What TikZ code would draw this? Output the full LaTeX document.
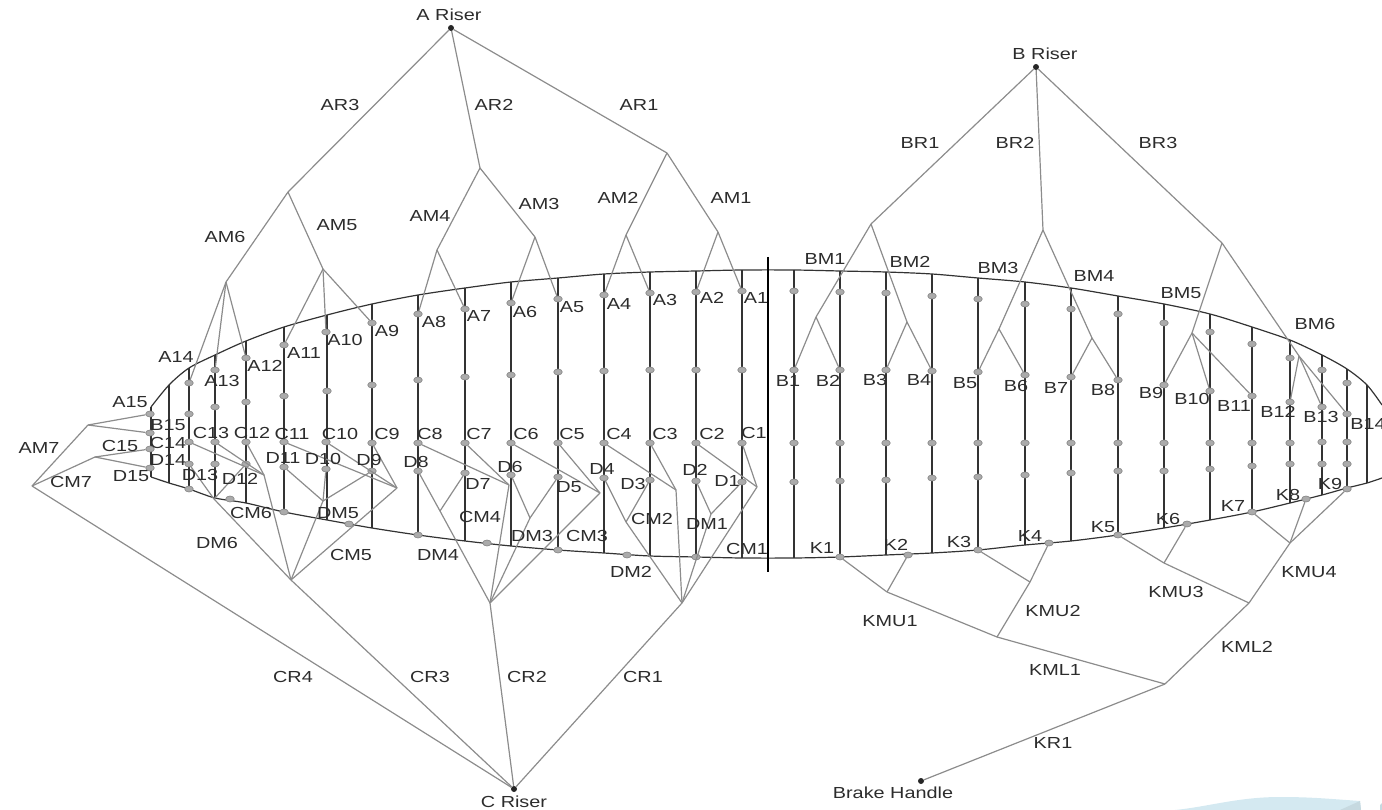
\documentclass[tikz,border=0pt]{standalone}
\usepackage{fontspec}
\usepackage{tikz}
\usetikzlibrary{shapes.geometric}
\newfontfamily\labelfam[FakeStretch=1.24]{Liberation Sans}
\definecolor{linegray}{HTML}{8C8C8C}
\definecolor{dotgray}{HTML}{ABABAB}
\definecolor{ribgray}{HTML}{333333}
\definecolor{labtext}{HTML}{2C2C2C}
\definecolor{paleblue}{HTML}{D4E9F1}
\definecolor{paleshade}{HTML}{C6D9E0}
\tikzset{
	lineline/.style={linegray,line width=1.2pt},
	rib/.style={ribgray,line width=1.2pt},
	linedot/.style={ellipse,fill=dotgray,draw=linegray,line width=0.7pt,inner sep=0pt,minimum width=8.5pt,minimum height=6pt},
	riserdot/.style={circle,fill=black!85,inner sep=0pt,minimum size=6pt},
	lab/.style={font=\labelfam\fontsize{16}{18}\selectfont,text=labtext,inner sep=0pt}
}
\begin{document}
\begin{tikzpicture}[x=1pt,y=-1pt]
	\useasboundingbox (0,0) rectangle (1382,810);
	% corner of the backdrop
	\fill [paleblue] (1128,810) to [out=-6,in=180] (1280,797) to [out=0,in=176] (1360,801) -- (1361,810) -- cycle;
	\fill [paleshade] (1340,810) -- (1360,801) -- (1361,810) -- cycle;
	\fill [paleshade] (1380,805) -- (1382,803) -- (1382,810) -- (1380,810) -- cycle;
	% canopy
	\draw [rib] plot [smooth,tension=0.5] coordinates {(151,407) (169,385) (189,368) (215,355) (246,341) (284,327) (327,315) (372,304) (418,295) (465,288) (511,282) (558,278) (604,274) (650,272) (696,271) (742,270) (794,270) (840,271) (886,272) (932,274) (978,278) (1025,282) (1071,288) (1118,296) (1164,304) (1210,314) (1252,327) (1290,340) (1322,355) (1347,369) (1367,385) (1382,405)};
	\draw [rib] plot [smooth,tension=0.5] coordinates {(151,477) (169,483) (189,489) (215,498) (246,503) (284,512) (327,520) (372,528) (418,535) (465,541) (511,546) (558,550) (604,553) (650,556) (696,557) (742,558) (794,558) (840,557) (886,555) (932,553) (978,550) (1025,545) (1071,541) (1118,535) (1164,528) (1210,520) (1252,512) (1290,503) (1322,495) (1347,488) (1367,483) (1382,478)};
	\foreach \x/\t/\b in {151/407/477,169/385/483,189/368/489,215/355/498,246/341/503,284/327/512,327/315/520,372/304/528,418/295/535,465/288/541,511/282/546,558/278/550,604/274/553,650/272/556,696/271/557,742/270/558,794/270/558,840/271/557,886/272/555,932/274/553,978/278/550,1025/282/545,1071/288/541,1118/296/535,1164/304/528,1210/314/520,1252/327/512,1290/340/503,1322/355/495,1347/369/488,1367/385/483}{
		\coordinate (ribtop\x) at (\x,\t);
		\coordinate (ribbot\x) at (\x,\b);
		\draw [rib] (ribtop\x) -- (ribbot\x);
	}
	\coordinate (axistop) at (768,257);
	\coordinate (axisbot) at (768,572);
	\draw [black,line width=1.7pt] (axistop) -- (axisbot);
	% attachment points
	\foreach \n/\x/\y in {A1/742/291,A2/696/292,A3/650/293,A4/604/295,A5/558/299,A6/511/303,A7/465/309,A8/418/314,A9/372/323,A10/326/332,A11/284/345,A12/246/358,A13/215/370,A14/189/383,A15/150/414,
		B15/150/433,C15/150/449,D15/150/468,
		C1/742/443,C2/696/443,C3/650/443,C4/604/443,C5/558/443,C6/511/443,C7/465/443,C8/418/443,C9/372/443,C10/326/442,C11/284/442,C12/246/442,C13/215/442,C14/189/442,
		D1/742/482,D2/696/481,D3/650/480,D4/604/478,D5/558/477,D6/511/475,D7/465/473,D8/418/471,D9/372/471,D10/326/469,D11/284/467,D12/246/464,D13/215/464,D14/189/464,
		B1/794/370,B2/840/370,B3/886/370,B4/932/371,B5/978/372,B6/1025/375,B7/1071/377,B8/1118/380,B9/1164/385,B10/1210/391,B11/1252/396,B12/1290/402,B13/1322/407,B14/1347/414,
		K1/840/557,K2/908/555,K3/978/550,K4/1049/543,K5/1118/535,K6/1187/524,K7/1252/512,K8/1306/499,K9/1347/489}{
		\node [linedot] (\n) at (\x,\y) {};
	}
	% points with no line running to them
	\foreach \n/\x/\y in {p1/189/414,p2/215/407,p3/246/402,p4/284/396,p5/327/391,p6/372/385,p7/418/380,p8/465/377,p9/511/375,p10/558/372,p11/604/371,p12/650/370,p13/696/370,p14/742/370,
		p15/189/489,p16/230/499,p17/284/512,p18/349/524,p19/418/535,p20/487/543,p21/558/550,p22/627/555,p23/696/557,
		q1/794/291,q2/840/292,q3/886/293,q4/932/296,q5/978/299,q6/1025/304,q7/1071/309,q8/1118/314,q9/1164/323,q10/1210/332,q11/1252/344,q12/1290/358,q13/1322/370,q14/1347/383,
		q15/794/443,q16/840/443,q17/886/443,q18/932/443,q19/978/443,q20/1025/443,q21/1071/443,q22/1118/443,q23/1164/443,q24/1210/443,q25/1252/443,q26/1290/443,q27/1322/442,q28/1347/442,
		q29/794/482,q30/840/481,q31/886/480,q32/932/478,q33/978/477,q34/1025/475,q35/1071/473,q36/1118/471,q37/1164/471,q38/1210/469,q39/1252/466,q40/1290/464,q41/1322/464,q42/1347/464}{
		\node [linedot] (\n) at (\x,\y) {};
	}
	% cascade junctions
	\node [riserdot] (ariser) at (451,28) {};
	\node [riserdot] (briser) at (1036,67) {};
	\node [riserdot] (criser) at (514,789) {};
	\node [riserdot] (brake) at (921,781) {};
	\foreach \n/\x/\y in {AR3/288/192,AR2/480/168,AR1/667/153,AM6/226/282,AM5/323/269,AM4/437/250,AM3/535/237,AM2/626/235,AM1/718/232,AM7/88/425,CM7/95/457,AC/32/486,
		CR3/291/580,CR2/490/603,CR1/682/603,DM6/214/499,CM6/264/475,DM5/323/501,CM5/397/488,DM4/440/511,CM4/509/485,DM3/530/518,CM3/600/493,DM2/626/522,CM2/676/490,DM1/711/514,CM1/757/487,
		BR1/871/224,BR2/1043/230,BR3/1222/243,BM1/816/317,BM2/907/322,BM3/999/329,BM4/1092/338,BM5/1192/333,BM6/1299/356,
		KR1/1165/684,KML1/997/637,KML2/1249/603,KMU1/887/592,KMU2/1030/582,KMU3/1164/563,KMU4/1290/543}{
		\coordinate (\n) at (\x,\y);
	}
	% suspension lines
	\foreach \s/\e in {ariser/AR3,ariser/AR2,ariser/AR1,AR3/AM6,AR3/AM5,AR2/AM4,AR2/AM3,AR1/AM2,AR1/AM1,
		AM6/A14,AM6/A13,AM6/A12,AM5/A11,AM5/A10,AM5/A9,AM4/A8,AM4/A7,AM3/A6,AM3/A5,AM2/A4,AM2/A3,AM1/A2,AM1/A1,
		AM7/A15,AM7/B15,CM7/C15,CM7/D15,AC/AM7,AC/CM7,criser/AC,
		criser/CR3,criser/CR2,criser/CR1,CR3/DM6,CR3/CM6,CR3/DM5,CR3/CM5,CR2/DM4,CR2/CM4,CR2/DM3,CR2/CM3,CR1/DM2,CR1/CM2,CR1/DM1,CR1/CM1,
		DM6/D14,DM6/D12,CM6/C14,CM6/C13,CM6/C12,DM5/D11,DM5/D10,DM5/D9,CM5/C11,CM5/C10,CM5/C9,
		DM4/D8,DM4/D7,CM4/C8,CM4/C7,DM3/D6,DM3/D5,CM3/C6,CM3/C5,DM2/D4,DM2/D3,CM2/C4,CM2/C3,DM1/D2,DM1/D1,CM1/C2,CM1/C1,
		briser/BR1,briser/BR2,briser/BR3,BR1/BM1,BR1/BM2,BR2/BM3,BR2/BM4,BR3/BM5,BR3/BM6,
		BM1/B1,BM1/B2,BM2/B3,BM2/B4,BM3/B5,BM3/B6,BM4/B7,BM4/B8,BM5/B9,BM5/B10,BM5/B11,BM6/B12,BM6/B13,BM6/B14,
		brake/KR1,KR1/KML1,KR1/KML2,KML1/KMU1,KML1/KMU2,KML2/KMU3,KML2/KMU4,
		KMU1/K1,KMU1/K2,KMU2/K3,KMU2/K4,KMU3/K5,KMU3/K6,KMU4/K7,KMU4/K8,KMU4/K9}{
		\draw [lineline] (\s) -- (\e);
	}
	% labels
	\node [lab] (labAriser) at (449,15) {A Riser};
	\node [lab] (labBriser) at (1045,54) {B Riser};
	\node [lab] (labCriser) at (514,802) {C Riser};
	\node [lab] (labBrake) at (893,793) {Brake Handle};
	\foreach \t/\x/\y in {AR3/340/105,AR2/494/105,AR1/639/105,AM6/225/237,AM5/337/225,AM4/430/216,AM3/539/204,AM2/618/198,AM1/731/198,AM7/39/448,CM7/71/482,
		A1/756/298,A2/712/298,A3/665/300,A4/619/304,A5/572/307,A6/525/312,A7/479/316,A8/434/322,A9/387/331,A10/345/340,A11/304/353,A12/265/366,A13/222/381,A14/176/357,A15/130/402,
		B15/168/425,C15/120/446,C14/168/443,D14/168/460,D15/131/476,
		C1/754/433,C2/712/434,C3/665/434,C4/619/434,C5/572/434,C6/526/434,C7/479/434,C8/430/434,C9/387/434,C10/340/434,C11/292/434,C12/252/433,C13/211/433,
		D1/727/481,D2/695/470,D3/633/484,D4/602/469,D5/569/487,D6/510/467,D7/478/484,D8/416/462,D9/369/460,D10/323/459,D11/283/458,D12/240/479,D13/200/475,
		DM6/217/543,CM6/251/513,DM5/338/513,CM5/351/555,DM4/438/555,CM4/480/517,DM3/532/536,CM3/587/536,DM2/631/572,CM2/652/519,DM1/707/524,CM1/747/549,
		CR4/293/677,CR3/430/677,CR2/527/677,CR1/643/677,
		BR1/920/143,BR2/1015/143,BR3/1158/143,BM1/825/259,BM2/910/262,BM3/998/268,BM4/1094/276,BM5/1181/293,BM6/1315/324,
		B1/788/381,B2/828/381,B3/875/380,B4/919/380,B5/965/383,B6/1016/386,B7/1056/388,B8/1103/390,B9/1151/393,B10/1192/399,B11/1234/406,B12/1278/412,B13/1321/417,B14/1368/424,
		K1/822/548,K2/896/545,K3/959/542,K4/1030/536,K5/1103/527,K6/1168/519,K7/1233/506,K8/1288/495,K9/1330/484,
		KMU1/890/621,KMU2/1053/611,KMU3/1176/592,KMU4/1309/572,KML1/1055/670,KML2/1247/647,KR1/1053/743}{
		\node [lab] (lab\t) at (\x,\y) {\t};
	}
\end{tikzpicture}
\end{document}
